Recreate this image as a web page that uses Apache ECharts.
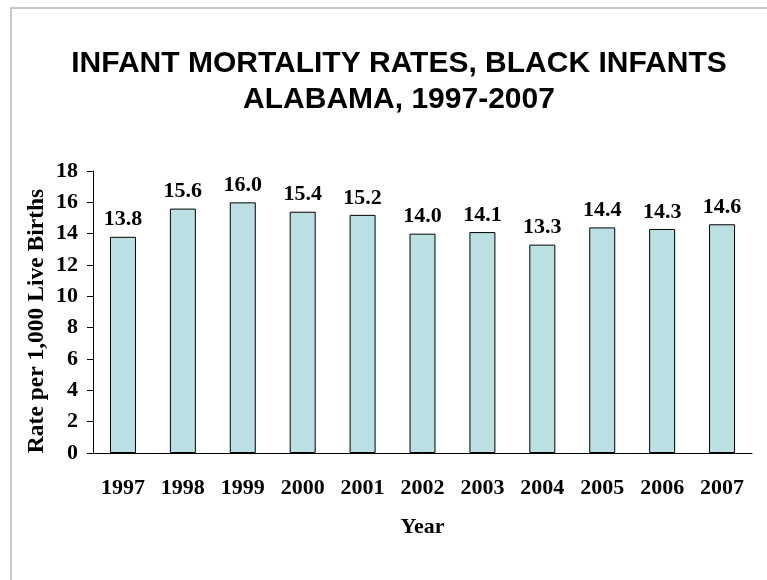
<!DOCTYPE html>
<html>
<head>
<meta charset="utf-8">
<script src="https://cdn.jsdelivr.net/npm/echarts@6/dist/echarts.min.js"></script>
<style>
  html, body { margin: 0; padding: 0; background: #fff; }
  #chart { width: 767px; height: 580px; }
</style>
</head>
<body>
<div id="chart"></div>
<script>
var years = ['1997', '1998', '1999', '2000', '2001', '2002', '2003', '2004', '2005', '2006', '2007'];
var rates = [13.8, 15.6, 16.0, 15.4, 15.2, 14.0, 14.1, 13.3, 14.4, 14.3, 14.6];
var titleLines = ['INFANT MORTALITY RATES, BLACK INFANTS', 'ALABAMA, 1997-2007'];

var serif = 'Liberation Serif';
var chart = echarts.init(document.getElementById('chart'));

chart.setOption({
    animation: false,
    backgroundColor: '#fff',
    title: {
        text: titleLines.join('\n'),
        left: 394,
        top: 41,
        textAlign: 'center',
        textStyle: {
            fontFamily: 'Liberation Sans',
            fontWeight: 'bold',
            fontSize: 30,
            lineHeight: 36,
            color: '#000'
        }
    },
    graphic: [{
        type: 'rect',
        shape: { x: 11, y: 8, width: 800, height: 620 },
        style: { fill: 'none', stroke: '#c8c8c8', lineWidth: 2 },
        silent: true
    }],
    grid: { left: 93, right: 15, top: 171, bottom: 127 },
    xAxis: {
        type: 'category',
        data: years,
        name: 'Year',
        nameLocation: 'middle',
        nameGap: 63,
        nameTextStyle: { fontFamily: serif, fontWeight: 'bold', fontSize: 22, color: '#000' },
        axisLine: { lineStyle: { color: '#000', width: 1 } },
        axisTick: { length: 7, lineStyle: { color: '#000' } },
        axisLabel: { margin: 24, fontFamily: serif, fontWeight: 'bold', fontSize: 22, color: '#000' }
    },
    yAxis: {
        type: 'value',
        min: 0,
        max: 18,
        interval: 2,
        name: 'Rate per 1,000 Live Births',
        nameLocation: 'middle',
        nameGap: 44,
        nameMoveOverlap: false,
        nameTextStyle: {
            fontFamily: serif, fontWeight: 'bold', fontSize: 23.5, color: '#000',
            padding: [0, 18, 0, 0]
        },
        splitLine: { show: false },
        axisLine: { show: true, lineStyle: { color: '#000', width: 1 } },
        axisTick: { show: true, length: 6, lineStyle: { color: '#000' } },
        axisLabel: { margin: 15, fontFamily: serif, fontWeight: 'bold', fontSize: 22, color: '#000' }
    },
    series: [{
        type: 'bar',
        data: rates,
        barWidth: 26,
        itemStyle: { color: '#bbe0e3', borderColor: '#000', borderWidth: 1 },
        label: {
            show: true,
            position: 'top',
            distance: 6,
            formatter: function (p) { return p.value.toFixed(1); },
            fontFamily: serif,
            fontWeight: 'bold',
            fontSize: 22,
            color: '#000'
        }
    }]
});
</script>
</body>
</html>
